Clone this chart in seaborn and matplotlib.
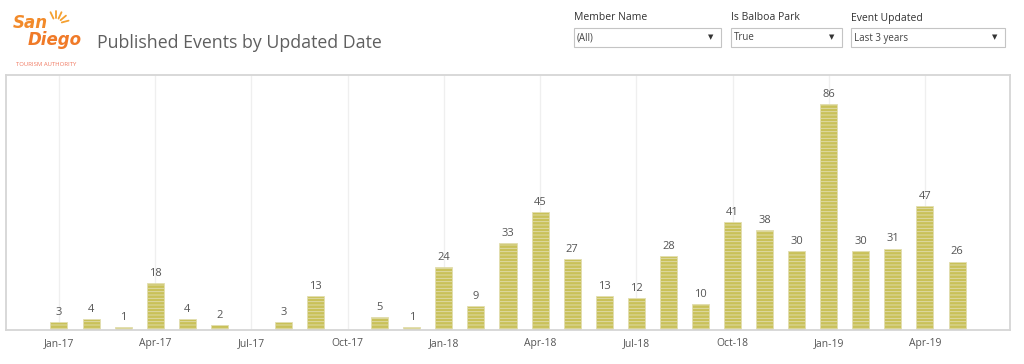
import matplotlib
matplotlib.use("Agg")
import matplotlib.pyplot as plt
import seaborn as sns
import pandas as pd
import numpy as np

months = ["Jan-17","Feb-17","Mar-17","Apr-17","May-17","Jun-17","Jul-17","Aug-17","Sep-17",
          "Oct-17","Nov-17","Dec-17","Jan-18","Feb-18","Mar-18","Apr-18","May-18","Jun-18",
          "Jul-18","Aug-18","Sep-18","Oct-18","Nov-18","Dec-18","Jan-19","Feb-19","Mar-19",
          "Apr-19","May-19"]
events = [3, 4, 1, 18, 4, 2, 0, 3, 13, 0, 5, 1, 24, 9, 33, 45, 27, 13, 12, 28, 10, 41, 38, 30,
          86, 30, 31, 47, 26]
tick_labels = ["Jan-17","Apr-17","Jul-17","Oct-17","Jan-18","Apr-18","Jul-18","Oct-18",
               "Jan-19","Apr-19"]

df = pd.DataFrame({"month": months, "events": events})

sns.set_style("white")
plt.rcParams["font.family"] = ["Open Sans", "DejaVu Sans"]
plt.rcParams["hatch.linewidth"] = 0.6

fig = plt.figure(figsize=(10.24, 3.64), dpi=100)
W, H = 1024, 364
ax = fig.add_axes([6 / W, 34 / H, 1004 / W, 255 / H])

sns.barplot(data=df, x="month", y="events", ax=ax, color="#c9c159", width=0.53,
            edgecolor="#e2deb0", linewidth=0.6, hatch="-----", saturation=1)
for p in ax.patches:
    p.set_facecolor("#c9c159")

ax.set_xlim(-1.65, len(months) - 1 + 1.65)
ax.set_ylim(0, 97)
ax.set_xlabel("")
ax.set_ylabel("")
ax.set_yticks([])
tick_pos = [months.index(m) for m in tick_labels]
ax.set_xticks(tick_pos)
ax.set_xticklabels(tick_labels, fontsize=7.5, color="#555555")
ax.tick_params(axis="x", length=0, pad=6)
ax.set_axisbelow(True)
ax.grid(axis="x", color="#efefef", linewidth=0.9)
for s in ax.spines.values():
    s.set_color("#d6d6d6")
    s.set_linewidth(1.3)

for i, v in enumerate(events):
    if v > 0:
        ax.annotate(str(v), (i, v), xytext=(0, 3), textcoords="offset points",
                    ha="center", va="bottom", fontsize=8, color="#555555")

# Header: logo
orange = "#f28a2a"
fig.text(13 / W, 1 - 23 / H, "San", fontsize=12, fontweight="bold", fontstyle="italic",
         color=orange, va="center", ha="left", family=["DejaVu Sans"])
fig.text(28 / W, 1 - 40 / H, "Diego", fontsize=12, fontweight="bold", fontstyle="italic",
         color="#f07a28", va="center", ha="left", family=["DejaVu Sans"])
for ang in [15, 40, 65, 90, 115]:
    r = np.deg2rad(ang)
    cx, cy = 56, 24
    x0, y0 = cx + 6 * np.cos(r), cy - 6 * np.sin(r)
    x1, y1 = cx + 13 * np.cos(r), cy - 13 * np.sin(r)
    fig.add_artist(plt.Line2D([x0 / W, x1 / W], [1 - y0 / H, 1 - y1 / H],
                              color="#f5a030", linewidth=1.3))
fig.text(46 / W, 1 - 65 / H, "TOURISM AUTHORITY", fontsize=4.3, color="#f07860",
         va="center", ha="center")

fig.text(97 / W, 1 - 43 / H, "Published Events by Updated Date", fontsize=12.8,
         color="#5f5f5f", va="center", ha="left")

# Filters
filters = [("Member Name", "(All)", 574, 721), ("Is Balboa Park", "True", 731, 842),
           ("Event Updated", "Last 3 years", 851, 1005)]
for label, val, x0, x1 in filters:
    fig.text(x0 / W, 1 - 18 / H, label, fontsize=7.5, color="#333333", va="center", ha="left")
    rect = plt.Rectangle((x0 / W, 1 - 47 / H), (x1 - x0) / W, 19 / H, transform=fig.transFigure,
                         facecolor="white", edgecolor="#c4c4c4", linewidth=0.8)
    fig.add_artist(rect)
    fig.text((x0 + 3) / W, 1 - 38 / H, val, fontsize=7, color="#444444", va="center", ha="left")
    fig.text((x1 - 10) / W, 1 - 37 / H, "▼", fontsize=5, color="#333333", va="center",
             ha="center", family=["DejaVu Sans"])

fig.savefig("out.png", dpi=100, facecolor="white")
